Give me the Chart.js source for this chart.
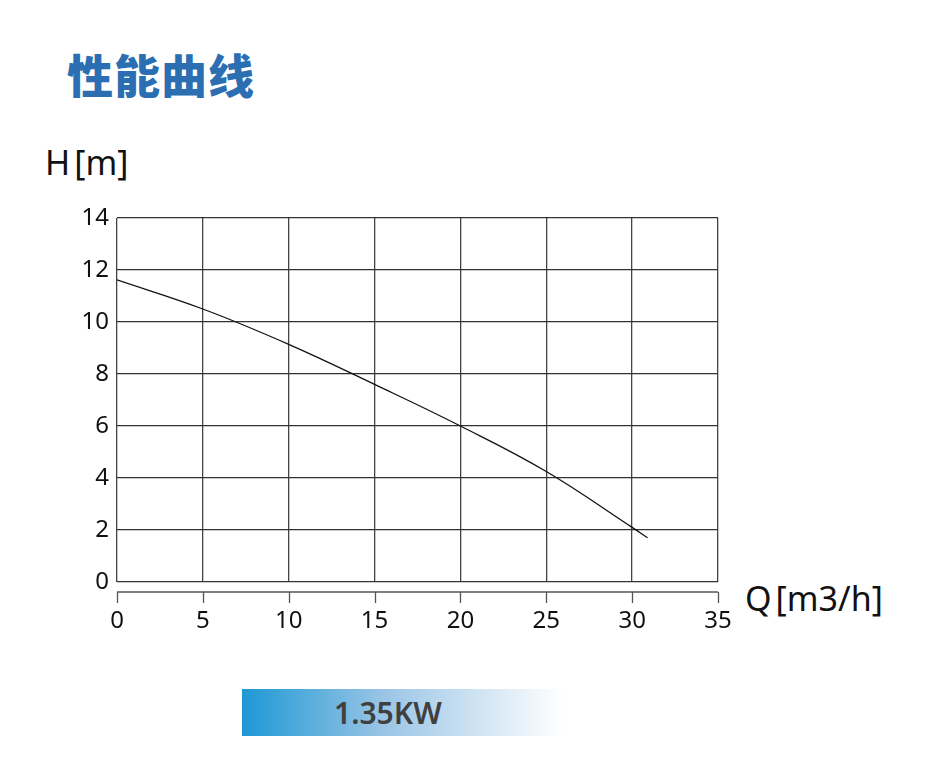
<!DOCTYPE html>
<html>
<head>
<meta charset="utf-8">
<script src="https://cdn.jsdelivr.net/npm/chart.js@4.4.1/dist/chart.umd.min.js"></script>
<style>
  body { margin: 0; background: #fff; }
  #wrap { position: relative; width: 940px; height: 783px; overflow: hidden; }
  #chart { position: absolute; left: 0; top: 0; }
  .title { position: absolute; left: 67px; top: 40px; font: 900 46px "Noto Sans CJK SC", sans-serif; color: #2b6fb2; letter-spacing: 1px; }
  .unit { position: absolute; font: 34px "Noto Sans", sans-serif; color: #111; }
  .unit span { margin-left: 4px; }
  .power { position: absolute; left: 242px; top: 689px; width: 321px; height: 47px;
    background: linear-gradient(to right, #1e98d4, #9cc6e6 45%, #ffffff 100%); }
  .power div { position: absolute; left: 92px; top: 3px; font: 600 30px "Noto Sans", sans-serif; color: #404040; }
</style>
</head>
<body>
<div id="wrap">
  <div class="title">性能曲线</div>
  <div class="unit" style="left:45px; top:139px;">H<span>[m]</span></div>
  <div class="unit" style="left:745px; top:575px;">Q<span>[m3/h]</span></div>
  <canvas id="chart" width="940" height="783"></canvas>
  <div class="power"><div>1.35KW</div></div>
</div>
<script>
const flow = [0, 5, 10, 15, 20, 25, 30, 30.9];
const head = [11.62, 10.5, 9.14, 7.6, 6.0, 4.25, 2.1, 1.7];
const xTicks = [0, 5, 10, 15, 20, 25, 30, 35];
const yTicks = [0, 2, 4, 6, 8, 10, 12, 14];

// separate x axis line below the grid, with ticks pointing down
const axisLine = {
  id: 'axisLine',
  afterDraw(chart) {
    const ctx = chart.ctx;
    const xs = chart.scales.x;
    const y0 = chart.chartArea.bottom + 10;
    ctx.save();
    ctx.strokeStyle = '#555';
    ctx.lineWidth = 1.3;
    ctx.beginPath();
    ctx.moveTo(xs.left, y0);
    ctx.lineTo(xs.right, y0);
    xTicks.forEach(function (t) {
      const px = Math.round(xs.getPixelForValue(t)) + 0.5;
      ctx.moveTo(px, y0);
      ctx.lineTo(px, y0 + 11);
    });
    ctx.stroke();
    ctx.restore();
  }
};

const ctx = document.getElementById('chart').getContext('2d');
new Chart(ctx, {
  type: 'line',
  data: {
    datasets: [{
      data: flow.map(function (q, i) { return { x: q, y: head[i] }; }),
      borderColor: '#111',
      borderWidth: 1.3,
      pointRadius: 0,
      tension: 0.4,
      fill: false
    }]
  },
  options: {
    responsive: false,
    animation: false,
    layout: { padding: { top: 218, right: 222, left: 0, bottom: 0 } },
    plugins: { legend: { display: false }, tooltip: { enabled: false } },
    scales: {
      x: {
        type: 'linear',
        min: 0, max: 35,
        afterBuildTicks: function (s) { s.ticks = xTicks.map(function (v) { return { value: v }; }); },
        afterFit: function (s) { s.height = 201; },
        grid: { color: '#444', lineWidth: 1.3, drawTicks: false },
        border: { display: false },
        ticks: { padding: 25, color: '#111', font: { family: 'Noto Sans', size: 24 } }
      },
      y: {
        min: 0, max: 14,
        afterBuildTicks: function (s) { s.ticks = yTicks.map(function (v) { return { value: v }; }); },
        afterFit: function (s) { s.width = 117; },
        grid: { color: '#333', lineWidth: 1.3, drawTicks: false },
        border: { display: false },
        ticks: { padding: 8, color: '#111', font: { family: 'Noto Sans', size: 24 } }
      }
    }
  },
  plugins: [axisLine]
});
</script>
</body>
</html>
